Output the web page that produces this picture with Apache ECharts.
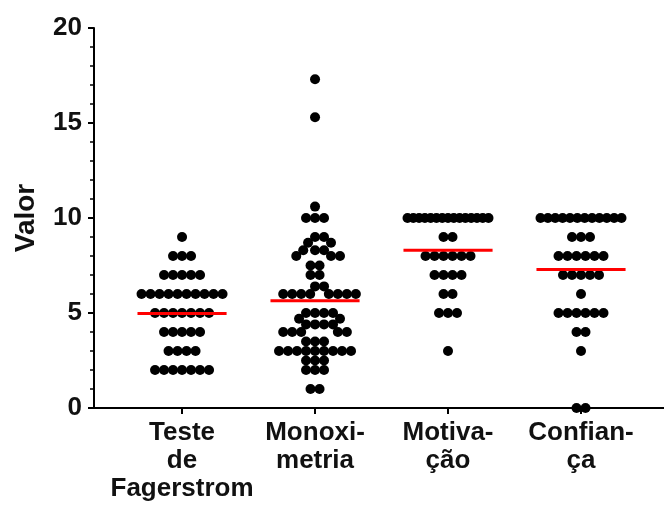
<!DOCTYPE html>
<html>
<head>
<meta charset="utf-8">
<script src="https://cdn.jsdelivr.net/npm/echarts@6/dist/echarts.min.js"></script>
<style>
  html, body { margin: 0; padding: 0; background: #fff; }
  #chart { width: 664px; height: 515px; }
</style>
</head>
<body>
<div id="chart"></div>
<script>
// categorias do eixo x
var categories = ['Teste\nde\nFagerstrom', 'Monoxi-\nmetria', 'Motiva-\nção', 'Confian-\nça'];

// valores de cada grupo
var testeValues = [9,
    8, 8, 8,
    7, 7, 7, 7, 7,
    6, 6, 6, 6, 6, 6, 6, 6, 6, 6,
    5, 5, 5, 5, 5, 5, 5,
    4, 4, 4, 4, 4,
    3, 3, 3, 3,
    2, 2, 2, 2, 2, 2, 2];
var monoxiValues = [17.3, 15.3, 10.6,
    10, 10, 10,
    9, 9,
    8.7, 8.7,
    8.3, 8.3, 8.3,
    8, 8, 8,
    7.5, 7.5,
    7, 7,
    6.4, 6.4,
    6, 6, 6, 6, 6, 6, 6, 6,
    5, 5, 5, 5,
    4.7, 4.7,
    4.4, 4.4, 4.4, 4.4,
    4, 4, 4, 4, 4,
    3.5, 3.5, 3.5,
    3, 3, 3, 3, 3, 3, 3, 3, 3,
    2.5, 2.5, 2.5,
    2, 2, 2,
    1, 1];
var motivacaoValues = [10, 10, 10, 10, 10, 10, 10, 10, 10, 10, 10, 10, 10, 10, 10,
    9, 9,
    8, 8, 8, 8, 8, 8,
    7, 7, 7, 7,
    6, 6,
    5, 5, 5,
    3];
var confiancaValues = [10, 10, 10, 10, 10, 10, 10, 10, 10, 10, 10, 10,
    9, 9, 9,
    8, 8, 8, 8, 8, 8,
    7, 7, 7, 7, 7,
    6,
    5, 5, 5, 5, 5, 5,
    4, 4,
    3,
    0, 0];

var groups = [testeValues, monoxiValues, motivacaoValues, confiancaValues];
var yTicks = [0, 5, 10, 15, 20];

// layout
var gridLeft = 94, gridRight = 0, gridTop = 28, gridBottom = 107;
var W = 664, H = 515;
var xMin = 0.338, xMax = 4.624;
var xPx = (W - gridLeft - gridRight) / (xMax - xMin);
var yPx = (H - gridTop - gridBottom) / (yTicks[yTicks.length - 1] - yTicks[0]);
var dot = 9;          // distancia minima entre centros (px)
var dotSize = 10;     // tamanho desenhado do ponto
var maxHalf = 40.5;   // meia largura maxima de uma linha de pontos
var meanHalf = 0.335; // meia largura da linha da media (unidades de x)

var font = 'Liberation Sans, Arial, sans-serif';
var ink = '#000';

// beeswarm simples: cada ponto vai para a posicao livre mais proxima do centro
function swarm(values) {
    var pts = values.map(function(v) { return { v: v, y: v * yPx, x: 0 }; });
    pts.sort(function(a, b) { return b.v - a.v; });
    var placed = [];
    pts.forEach(function(p) {
        var cands = [0];
        placed.forEach(function(q) {
            var dy = Math.abs(q.y - p.y);
            if (dy < dot) {
                var dx = Math.sqrt(dot * dot - dy * dy);
                cands.push(q.x + dx, q.x - dx);
            }
        });
        cands.sort(function(a, b) { return (Math.abs(a) - Math.abs(b)) || (b - a); });
        for (var i = 0; i < cands.length; i++) {
            var c = cands[i], ok = true;
            for (var j = 0; j < placed.length; j++) {
                var q = placed[j];
                var d = Math.sqrt((q.x - c) * (q.x - c) + (q.y - p.y) * (q.y - p.y));
                if (d < dot - 1e-6) { ok = false; break; }
            }
            if (ok) { p.x = c; break; }
        }
        placed.push(p);
    });
    // linhas isoladas (valores iguais sem vizinhos) ficam simetricas e comprimidas
    var byVal = {};
    pts.forEach(function(p) { (byVal[p.v] = byVal[p.v] || []).push(p); });
    Object.keys(byVal).forEach(function(k) {
        var row = byVal[k];
        var v = row[0].v;
        var isolated = pts.every(function(p) {
            return p.v === v || Math.abs(p.v - v) * yPx >= dot;
        });
        if (!isolated) return;
        var n = row.length;
        var s = n > 1 ? Math.min(dot, 2 * maxHalf / (n - 1)) : 0;
        row.forEach(function(p, i) { p.x = (i - (n - 1) / 2) * s; });
    });
    return pts;
}

var series = [];
groups.forEach(function(vals, gi) {
    var c = gi + 1;
    var pts = swarm(vals);
    series.push({
        type: 'scatter',
        symbol: 'circle',
        symbolSize: dotSize,
        itemStyle: { color: '#000', opacity: 1 },
        silent: true,
        z: 2,
        data: pts.map(function(p) { return [c + p.x / xPx, p.v]; })
    });
    var mean = vals.reduce(function(a, b) { return a + b; }, 0) / vals.length;
    series.push({
        type: 'line',
        symbol: 'none',
        silent: true,
        z: 3,
        lineStyle: { color: '#ff0000', width: 3 },
        data: [[c - meanHalf, mean], [c + meanHalf, mean]]
    });
});

var myChart = echarts.init(document.getElementById('chart'));
myChart.setOption({
    animation: false,
    backgroundColor: '#fff',
    grid: { left: gridLeft, right: gridRight, top: gridTop, bottom: gridBottom, containLabel: false },
    xAxis: {
        type: 'value',
        min: xMin,
        max: xMax,
        axisLine: { show: true, onZero: false, lineStyle: { color: ink, width: 2 } },
        axisTick: { show: true, customValues: [1, 2, 3, 4], length: 6, lineStyle: { color: ink, width: 2 } },
        axisLabel: {
            customValues: [1, 2, 3, 4],
            formatter: function(v) { return categories[Math.round(v) - 1]; },
            fontFamily: font,
            fontWeight: 'bold',
            fontSize: 26,
            lineHeight: 28,
            color: '#111',
            margin: 11
        },
        splitLine: { show: false }
    },
    yAxis: {
        type: 'value',
        min: yTicks[0],
        max: yTicks[yTicks.length - 1],
        interval: 5,
        name: 'Valor',
        nameLocation: 'middle',
        nameRotate: 90,
        nameGap: 54,
        nameTextStyle: { fontFamily: font, fontWeight: 'bold', fontSize: 28, color: '#111' },
        axisLine: { show: true, lineStyle: { color: ink, width: 2 } },
        axisTick: { show: true, inside: false, length: 6, lineStyle: { color: ink, width: 2 } },
        minorTick: { show: true, splitNumber: 5, length: 4, lineStyle: { color: ink, width: 1.5 } },
        axisLabel: { fontFamily: font, fontWeight: 'bold', fontSize: 26, color: '#111', margin: 12 },
        splitLine: { show: false }
    },
    series: series
});
</script>
</body>
</html>
